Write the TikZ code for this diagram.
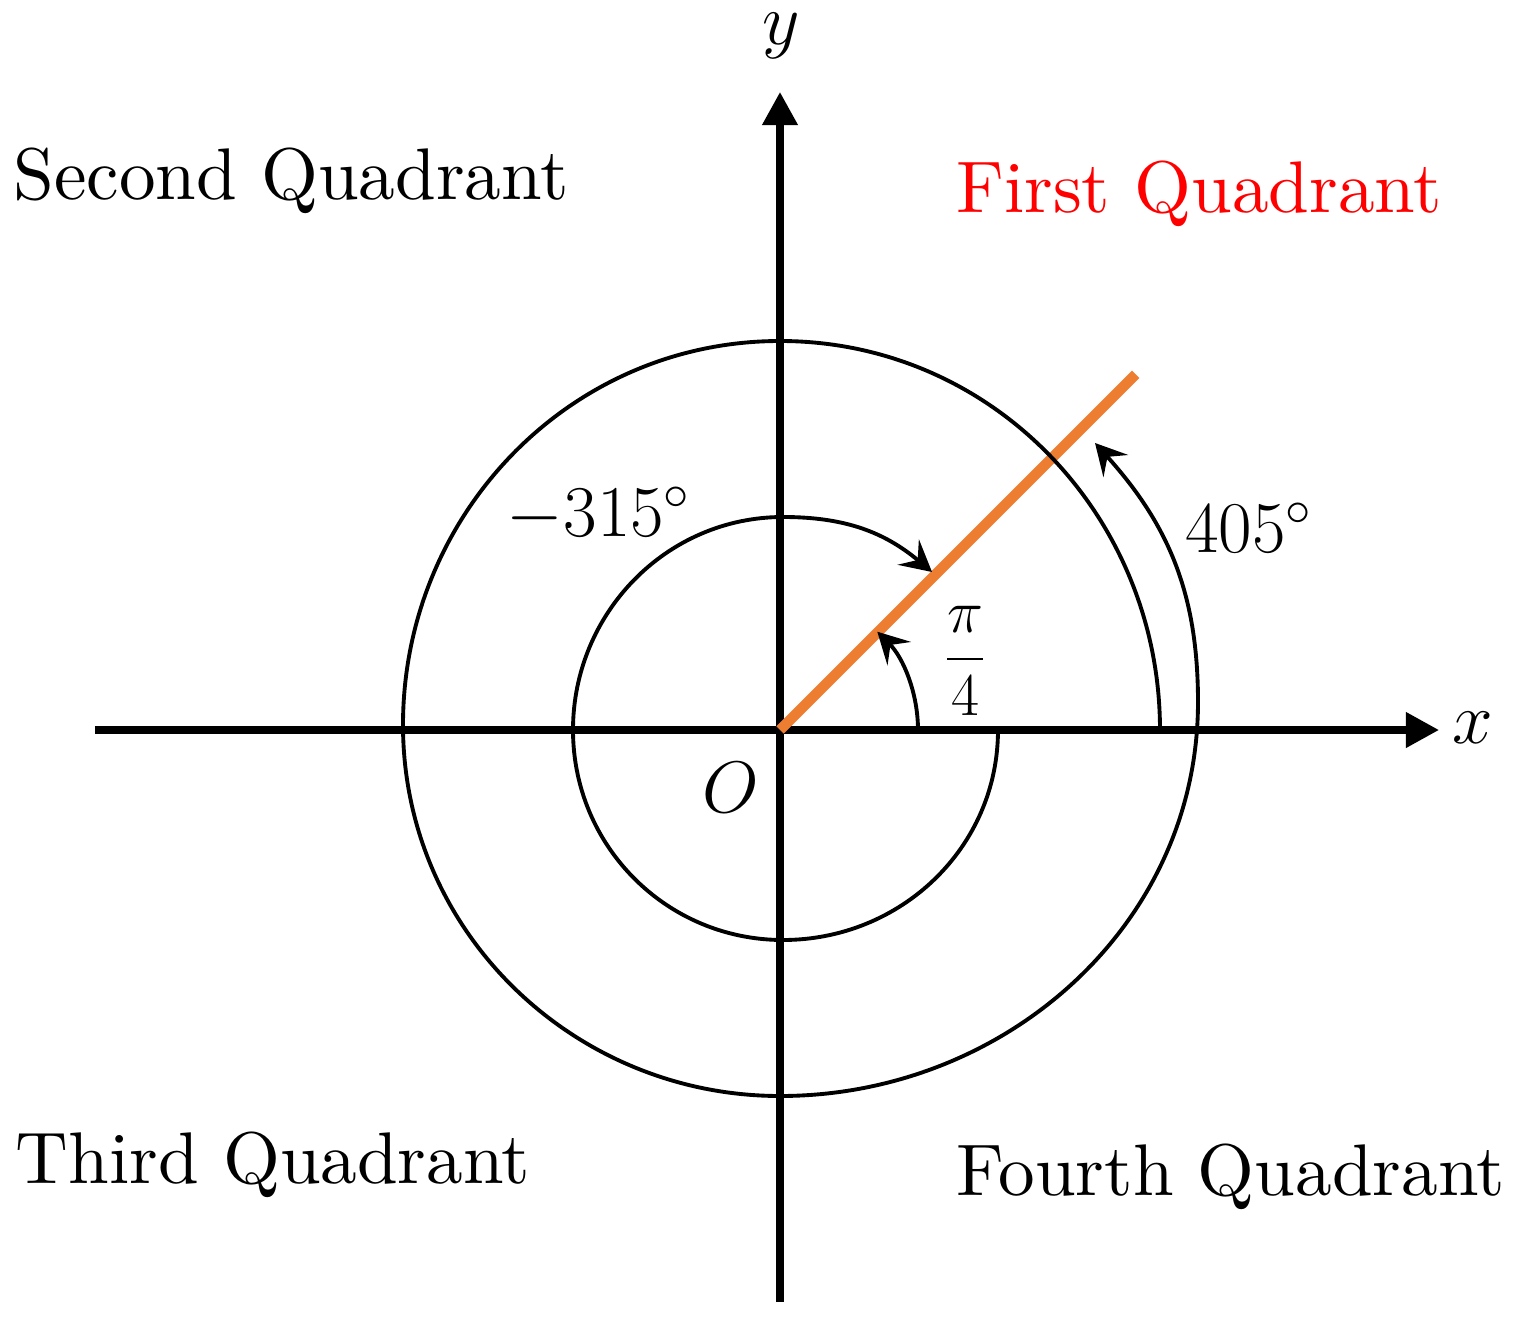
\documentclass[tikz,border=0pt]{standalone}
\usetikzlibrary{arrows.meta}
\definecolor{rayorange}{RGB}{237,125,49}
\begin{document}
\begin{tikzpicture}[x=0.01cm,y=0.01cm,
  axisline/.style={line width=2pt,-{Triangle[length=0.33cm,width=0.34cm]}},
  curveline/.style={line width=1.1pt,-{Stealth[length=8.8pt,width=9.4pt,inset=3.5pt]}},
  ray/.style={line width=3pt,rayorange},
  lbl/.style={font=\fontsize{20.74}{25}\selectfont,inner sep=0pt,anchor=base},
  quad/.style={font=\fontsize{10}{12}\selectfont,scale=2.08,inner sep=0pt,anchor=base}]
\useasboundingbox (-780,-588) rectangle (742,730);
% axes
\coordinate (xs) at (-685,0);
\coordinate (xe) at (659,0);
\coordinate (ys) at (0,-572);
\coordinate (ye) at (0,638);
\draw[axisline] (xs) -- (xe);
\draw[axisline] (ys) -- (ye);
% terminal ray
\coordinate (O) at (0,0);
\coordinate (R) at (45:503);
\draw[ray] (O) -- (R);
% pi/4 arc
\coordinate (a0) at (138,0);
\draw[curveline] (a0) arc[start angle=0,end angle=45,radius=139];
% -315 spiral
\coordinate (i0) at (218,0);
\coordinate (i1) at (3,-210);
\coordinate (i2) at (-207,0);
\coordinate (i3) at (3,213);
\coordinate (i4) at (152,158);
\draw[curveline] (i0) to[out=-90,in=0] (i1) to[out=180,in=-90] (i2)
  to[out=90,in=180] (i3) to[out=0,in=140] (i4);
% 405 spiral
\coordinate (o0) at (380,0);
\coordinate (o1) at (0,389);
\coordinate (o2) at (-377,5);
\coordinate (o3) at (0,-366);
\coordinate (o4) at (418,28);
\coordinate (o5) at (315,287);
\draw[curveline] (o0) to[out=90,in=0] (o1) to[out=180,in=90] (o2)
  to[out=-90,in=180] (o3) to[out=0,in=-90] (o4) to[out=90,in=-48] (o5);
% labels
\node[lbl] (ylab) at (1,685) {$y$};
\node[lbl] (xlab) at (693,-13) {$x$};
\node[lbl] (olab) at (-49,-82) {$O$};
\node[lbl] (n315) at (-181,194) {$-315^\circ$};
\node[lbl] (n405) at (469,178) {$405^\circ$};
\node[lbl,font=\fontsize{19}{23}\selectfont] (npi) at (185,56) {$\displaystyle\frac{\pi}{4}$};
\node[quad] (q2) at (-489,530) {Second Quadrant};
\node[quad,text=red] (q1) at (419,517) {First Quadrant};
\node[quad] (q3) at (-507,-453) {Third Quadrant};
\node[quad] (q4) at (451,-465) {Fourth Quadrant};
\end{tikzpicture}
\end{document}
